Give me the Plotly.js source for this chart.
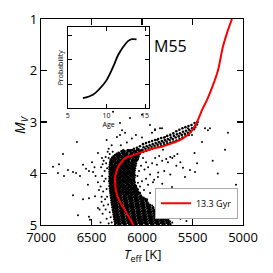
<!DOCTYPE html>
<html>
<head>
<meta charset="utf-8">
<script src="https://cdn.plot.ly/plotly-3.0.1.min.js"></script>
<style>html,body{margin:0;padding:0;background:#fff}#chart{width:273px;height:273px}</style>
</head>
<body>
<div id="chart"></div>
<script>
// Isochrone (13.3 Gyr): effective temperature [K] and absolute magnitude M_V
var isoTeff = [5109,5158,5200,5248,5300,5356,5406,5446,5490,5530,5574,5624,5700,5805,5900,5960,6037,6110,6168,6205,6235,6255,6267,6265,6260,6240,6218,6185,6152,6120,6086];
var isoMv   = [1.00,1.27,1.55,2.00,2.30,2.57,2.77,2.96,3.12,3.22,3.29,3.35,3.41,3.48,3.52,3.56,3.61,3.66,3.70,3.78,3.87,3.97,4.09,4.20,4.32,4.45,4.55,4.66,4.77,4.88,5.00];

// Inset: age probability curve
var ageVals  = [6.95,8.25,9.13,10.0,10.86,11.5,12.16,12.8,13.3,13.9];
var probVals = [0.42,0.56,0.81,1.15,1.70,2.18,2.52,2.76,2.84,2.83];

// Field stars [Teff, Mv]
var fieldStars = [[6644,3.39],[6782,3.62],[6881,3.87],[6822,3.82],[6832,3.99],[6772,4.05],[6733,3.93],[6683,3.97],[6653,3.99],[6614,4.05],[6584,3.83],[6554,3.91],[6525,3.95],[6495,3.78],[6485,3.97],[6436,3.60],[6396,3.70],[6683,4.42],[6584,4.50],[6525,4.48],[6525,4.84],[6634,4.81],[6535,4.22],[6465,4.44],[6436,4.67],[6436,4.17],[6426,4.32],[6515,4.90],[6410,4.95],[6460,4.05],[6470,3.88],[6405,3.88],[6400,4.55],[6390,4.78],
[6287,2.80],[6218,3.02],[6119,2.92],[6000,2.86],[5921,3.06],[5871,3.14],[5822,3.12],[5901,3.21],[5772,3.29],[5851,3.35],[5802,3.12],[5871,3.16],[5545,3.12],[5515,3.19],[5376,3.12],[5347,3.16],[6198,3.16],[6168,3.21],[6218,3.25],[6248,3.29],[6300,3.45],[6350,3.35],[6330,3.52],[6060,3.25],[6100,3.32],[6000,3.30],[6150,3.40],[6210,3.45],
[5327,3.12],[5149,3.21],[5406,3.39],[5505,3.25],[5455,3.80],[5594,3.89],[5525,3.93],[5475,3.97],[5574,4.07],[5743,3.78],[5792,3.54],[5347,4.36],[5069,4.22],[5178,3.54],[5594,4.48],[5406,4.50],[5436,4.44],[5852,3.83],[5891,4.17],[5842,4.07],[5703,4.26],[5802,4.32],[5650,3.62],[5700,3.70],[5480,3.60],[5300,3.75],[5250,4.00],[5620,4.35],[5520,4.70],[5650,4.60],[5700,4.52],[5480,4.85],[5560,4.92],
[5990,3.70],[5960,3.78],[6010,3.85],[5975,3.92],[5940,3.88],[5900,3.80],[5870,3.70],[5830,3.66],[5800,3.75],[5760,3.72],[5720,3.68],[5680,3.66],[5920,4.02],[5960,4.10],[6000,4.15],[5940,4.22],[5880,4.12],[5840,3.98],[5780,3.95],[5720,4.02],[5660,3.85],[5620,3.78],[6020,4.25],[5980,4.32],[5920,4.38],[5860,4.33],[5800,4.20],[5760,4.40],[5700,4.35],[5950,4.50],[5900,4.62],[5860,4.55],[5810,4.62],[5760,4.72],[5700,4.66],[5660,4.78],[5620,4.88],[5700,4.95],[5740,4.88],[5780,4.80],[6030,3.95],[6045,4.05],[6040,4.18],
[6340,3.58],[6355,3.80],[6345,3.90],[6360,4.10],[6350,4.30],[6345,4.45],[6335,4.60],[6320,4.75],[6310,4.85],[6300,4.95],[6390,3.82],[6400,4.45],[6420,4.70],[6330,3.70],[6380,3.75],[6370,3.95],[6375,4.15],[6385,4.35],[6365,4.50],[6360,4.70],[6350,4.88],[6330,4.97],[6360,3.68],[6290,3.58],[6320,3.62],[6395,4.05],[6410,4.25],[6380,4.62]];

// Subgiant branch stars [Teff, Mv]
var sgbStars = [[5450,3.00],[5456,3.05],[5480,3.02],[5474,3.10],[5486,3.14],[5510,3.06],[5504,3.12],[5516,3.18],[5540,3.08],[5534,3.15],[5546,3.21],[5538,3.25],[5570,3.10],[5564,3.17],[5576,3.23],[5568,3.27],[5600,3.12],[5594,3.19],[5606,3.25],[5598,3.30],[5630,3.15],[5624,3.22],[5636,3.28],[5628,3.33],[5660,3.18],[5654,3.24],[5666,3.30],[5658,3.36],[5690,3.22],[5684,3.27],[5696,3.33],[5688,3.38],[5720,3.25],[5714,3.30],[5726,3.35],[5718,3.40],[5750,3.27],[5744,3.33],[5756,3.38],[5748,3.42],[5780,3.30],[5774,3.35],[5786,3.40],[5778,3.44],[5810,3.31],[5804,3.37],[5816,3.42],[5808,3.46],[5840,3.33],[5834,3.39],[5846,3.44],[5838,3.48],[5870,3.35],[5864,3.41],[5876,3.46],[5868,3.50],[5900,3.37],[5894,3.43],[5906,3.48],[5898,3.52],[5930,3.39],[5924,3.45],[5936,3.50],[5928,3.54],[5960,3.41],[5954,3.47],[5966,3.52],[5958,3.56],[5990,3.43],[5984,3.49],[5996,3.54],[5988,3.58],[6020,3.47],[6050,3.50],[6080,3.52],[6110,3.55],[6035,3.53],[6070,3.57],[6140,3.56]];

// Main-sequence rows: M_V of each row and the Teff of the stars read along it
var msRowMv = [3.548,3.571,3.597,3.618,3.641,3.668,3.689,3.713,3.738,3.759,3.784,3.806,3.829,3.851,3.874,3.897,3.918,3.941,3.965,3.987,4.011,4.034,4.058,4.079,4.102,4.126,4.149,4.171,4.195,4.218,4.242,4.266,4.289,4.311,4.336,4.358,4.381,4.404,4.428,4.451,4.473,4.497,4.519,4.543,4.566,4.588,4.612,4.634,4.657,4.681,4.703,4.727,4.749,4.773,4.796,4.818,4.842,4.864,4.887,4.911,4.934,4.958,4.981];
var msRowTeff = [
[6185,6141,6128,6096,6052,6037,6008],
[6203,6172,6139,6117,6079,6061,6022,5998],
[6231,6194,6180,6148,6109,6093,6055,6031],
[6249,6220,6191,6160,6144,6112,6071,6049,6021],
[6266,6238,6215,6176,6157,6121,6098,6064,6040],
[6281,6247,6229,6198,6166,6139,6118,6082,6055,6033],
[6294,6270,6236,6214,6183,6160,6127,6101,6070,6046],
[6300,6278,6251,6233,6195,6172,6141,6119,6088,6059,6041],
[6311,6283,6262,6224,6205,6179,6150,6131,6096,6072,6048],
[6297,6276,6240,6219,6188,6163,6138,6103,6083,6057],
[6315,6290,6259,6236,6211,6177,6156,6125,6094,6076],
[6305,6268,6249,6222,6191,6170,6142,6110,6088,6061],
[6318,6293,6271,6237,6214,6185,6159,6129,6101,6079],
[6300,6281,6255,6226,6199,6168,6147,6117,6091,6064],
[6321,6292,6266,6244,6212,6190,6158,6134,6105,6083],
[6306,6279,6251,6230,6197,6176,6145,6118,6097,6070],
[6320,6296,6268,6239,6216,6184,6161,6137,6104,6082],
[6309,6282,6257,6225,6204,6175,6149,6123,6095,6074],
[6322,6293,6270,6243,6213,6190,6166,6134,6111,6086],
[6304,6283,6254,6229,6201,6178,6147,6125,6098,6077],
[6319,6295,6266,6241,6218,6186,6162,6139,6107,6084],
[6307,6280,6258,6232,6203,6174,6153,6120,6099,6072],
[6322,6291,6269,6245,6214,6192,6163,6137,6110,6087],
[6310,6285,6255,6228,6207,6178,6150,6128,6096,6075],
[6320,6297,6272,6240,6219,6190,6166,6140,6114,6085],
[6305,6281,6259,6233,6201,6180,6152,6126,6100,6078],
[6323,6293,6267,6246,6215,6188,6165,6136,6112,6083],
[6309,6284,6255,6231,6206,6174,6153,6123,6097,6073],
[6318,6296,6270,6240,6220,6192,6161,6141,6108,6086],
[6306,6279,6256,6227,6202,6181,6149,6127,6099,6071],
[6321,6290,6268,6243,6213,6188,6166,6134,6113,6082,6060],
[6304,6283,6254,6230,6199,6177,6150,6122,6101,6070],
[6317,6292,6265,6239,6216,6186,6161,6139,6105,6084,6055],
[6302,6277,6251,6228,6196,6172,6147,6120,6093,6068,6042],
[6315,6289,6266,6235,6211,6188,6158,6131,6110,6077,6053],
[6299,6275,6247,6223,6200,6169,6145,6118,6090,6066,6038],
[6312,6281,6263,6236,6205,6183,6152,6129,6108,6076,6053,6021],
[6296,6274,6240,6222,6190,6163,6142,6111,6089,6057,6038],
[6309,6280,6260,6227,6208,6174,6155,6124,6102,6069,6049,6014],
[6294,6270,6238,6218,6184,6165,6133,6111,6080,6058,6026,6006],
[6306,6277,6258,6223,6203,6171,6151,6116,6097,6064,6043,6009,5985],
[6291,6267,6235,6214,6180,6160,6127,6107,6073,6055,6020,6000,5968],
[6303,6273,6253,6220,6199,6166,6147,6113,6094,6059,6039,6004,5986,5955],
[6288,6265,6231,6212,6177,6158,6123,6104,6070,6050,6015,5995,5959],
[6300,6270,6250,6215,6197,6162,6144,6108,6090,6054,6035,6000,5982,5947],
[6284,6261,6227,6209,6173,6155,6120,6100,6065,6047,6011,5992,5956,5938],
[6296,6265,6247,6212,6194,6158,6140,6105,6085,6051,6031,5996,5977,5941,5921],
[6281,6258,6223,6205,6170,6151,6117,6097,6062,6043,6007,5989,5952,5932],
[6292,6262,6243,6209,6189,6155,6136,6101,6082,6047,6028,5992,5974,5938,5918,5890],
[6277,6255,6220,6201,6166,6147,6113,6093,6058,6039,6004,5984,5949,5930,5894],
[6289,6258,6240,6204,6186,6150,6132,6097,6078,6042,6023,5988,5969,5933,5914,5878],
[6274,6251,6216,6197,6162,6143,6108,6089,6054,6035,5999,5980,5945,5925,5889,5872],
[6285,6255,6235,6201,6181,6146,6128,6092,6074,6038,6019,5984,5964,5929,5909,5875,5852],
[6270,6247,6212,6193,6158,6139,6104,6085,6050,6030,5995,5976,5940,5921,5885,5866,5830],
[6281,6251,6232,6196,6178,6142,6124,6088,6069,6034,6015,5979,5960,5924,5904,5869,5849,5815],
[6266,6243,6208,6189,6154,6135,6100,6081,6046,6026,5991,5972,5936,5917,5881,5862,5826,5806],
[6277,6246,6228,6192,6174,6138,6120,6084,6065,6030,6011,5975,5956,5920,5900,5865,5845,5809,5790],
[6262,6239,6204,6185,6150,6131,6096,6077,6042,6022,5987,5968,5932,5913,5877,5858,5822,5802,5770],
[6273,6242,6223,6188,6170,6134,6116,6080,6061,6026,6007,5971,5952,5916,5896,5861,5841,5805,5785,5752],
[6258,6235,6200,6181,6146,6127,6092,6073,6038,6018,5983,5964,5928,5909,5873,5854,5818,5798,5762,5740],
[6269,6238,6219,6184,6166,6130,6112,6076,6057,6022,6003,5967,5948,5912,5892,5857,5837,5801,5781,5748,5725],
[6254,6231,6196,6177,6142,6123,6088,6069,6034,6014,5979,5960,5924,5905,5869,5850,5814,5794,5758,5738],
[6265,6234,6215,6180,6162,6126,6108,6072,6053,6018,5999,5963,5944,5908,5888,5853,5833,5797,5777,5741,5720]];

var xTickVals = [7000,6500,6000,5500,5000];
var yTickVals = [1,2,3,4,5];
var insetXTicks = [5,10,15];
var insetYTicks = [0,1,2,3];
var seriesLabel = '13.3 Gyr';
var clusterName = 'M55';
var xTitle = '<i>T</i><sub>eff</sub> [K]';
var yTitle = '<i>M<sub>V</sub></i>';

var fieldTeff = [], fieldMv = [];
fieldStars.forEach(function(p){ fieldTeff.push(p[0]); fieldMv.push(p[1]); });
var clusterTeff = [], clusterMv = [];
sgbStars.forEach(function(p){ clusterTeff.push(p[0]); clusterMv.push(p[1]); });
msRowTeff.forEach(function(row, i){ row.forEach(function(t){ clusterTeff.push(t); clusterMv.push(msRowMv[i]); }); });

var FONT = 'Open Sans, Lato, DejaVu Sans, sans-serif';

var traces = [
  {x: fieldTeff, y: fieldMv, type: 'scatter', mode: 'markers', xaxis: 'x', yaxis: 'y',
   marker: {color: '#000', size: 2, line: {width: 0}}, showlegend: false, hoverinfo: 'skip'},
  {x: clusterTeff, y: clusterMv, type: 'scatter', mode: 'markers', xaxis: 'x', yaxis: 'y',
   marker: {color: '#000', size: 2.6, line: {width: 0}}, showlegend: false, hoverinfo: 'skip'},
  {x: isoTeff, y: isoMv, type: 'scatter', mode: 'lines', xaxis: 'x', yaxis: 'y',
   line: {color: '#ff0000', width: 2, shape: 'spline', smoothing: 0.8}, name: seriesLabel, showlegend: true},
  {x: ageVals, y: probVals, type: 'scatter', mode: 'lines', xaxis: 'x2', yaxis: 'y2',
   line: {color: '#000', width: 1.8, shape: 'spline'}, showlegend: false}
];

var layout = {
  width: 273, height: 273,
  margin: {l: 41, r: 30, t: 19, b: 48},
  paper_bgcolor: '#fff', plot_bgcolor: 'rgba(0,0,0,0)',
  font: {family: FONT, color: '#000', size: 13},
  xaxis: {
    range: [7000, 5000], tickvals: xTickVals, ticktext: xTickVals.map(String),
    ticks: 'inside', ticklen: 6, tickwidth: 1.2, tickcolor: '#000',
    showline: true, linecolor: '#000', linewidth: 1.3, mirror: 'ticks',
    showgrid: false, zeroline: false, tickfont: {size: 13, family: FONT},
    automargin: false, domain: [0, 1]
  },
  yaxis: {
    range: [5, 1], tickvals: yTickVals, ticktext: yTickVals.map(String),
    ticks: 'inside', ticklen: 6, tickwidth: 1.2, tickcolor: '#000',
    showline: true, linecolor: '#000', linewidth: 1.3, mirror: 'ticks',
    showgrid: false, zeroline: false, tickfont: {size: 13, family: FONT},
    automargin: false, domain: [0, 1]
  },
  xaxis2: {
    domain: [0.133, 0.536], anchor: 'y2', range: [5, 15.55], tickvals: insetXTicks,
    ticks: 'inside', ticklen: 4, tickwidth: 1, tickcolor: '#000',
    showline: true, linecolor: '#000', linewidth: 1, mirror: 'ticks',
    showgrid: false, zeroline: false, tickfont: {size: 7, family: FONT},
    title: {text: 'Age', font: {size: 7, family: FONT}, standoff: 2}, automargin: false
  },
  yaxis2: {
    domain: [0.566, 0.96], anchor: 'x2', range: [0, 3.33], tickvals: insetYTicks,
    ticks: 'inside', ticklen: 4, tickwidth: 1, tickcolor: '#000',
    showline: true, linecolor: '#000', linewidth: 1, mirror: 'ticks',
    showgrid: false, zeroline: false, showticklabels: false,
    title: {text: 'Probability', font: {size: 7, family: FONT}, standoff: 2}, automargin: false
  },
  legend: {
    x: 0.975, y: 0.03, xanchor: 'right', yanchor: 'bottom',
    bgcolor: '#fff', bordercolor: '#aaa', borderwidth: 1,
    font: {size: 9, family: FONT}, itemwidth: 30, tracegroupgap: 0
  },
  annotations: [
    {text: clusterName, xref: 'paper', yref: 'paper', x: 0.548, y: 0.87,
     xanchor: 'left', yanchor: 'middle', showarrow: false, font: {size: 16, family: FONT}},
    {text: xTitle, xref: 'paper', yref: 'paper', x: 0.505, y: -0.145,
     xanchor: 'center', yanchor: 'middle', showarrow: false, font: {size: 13, family: FONT}},
    {text: yTitle, xref: 'paper', yref: 'paper', x: -0.104, y: 0.49, textangle: -90,
     xanchor: 'center', yanchor: 'middle', showarrow: false, font: {size: 14, family: FONT}}
  ],
  showlegend: true
};

Plotly.newPlot('chart', traces, layout, {staticPlot: true, displayModeBar: false});
</script>
</body>
</html>
